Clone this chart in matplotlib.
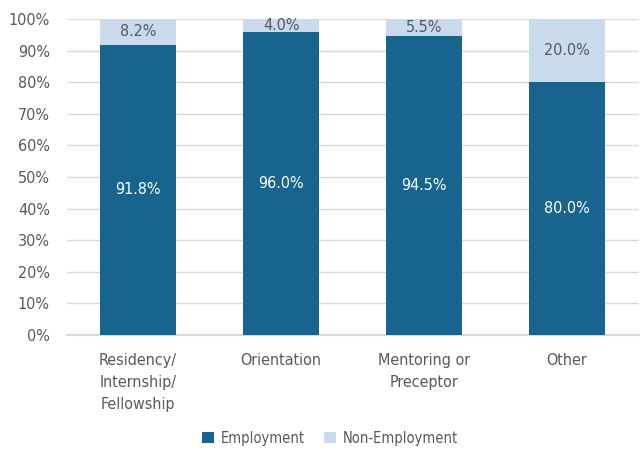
import matplotlib
matplotlib.use("Agg")
import matplotlib.pyplot as plt
import numpy as np

plt.rcParams['font.family'] = ['DejaVu Sans']
plt.rcParams['font.stretch'] = 'condensed'

categories = ["Residency/\nInternship/\nFellowship", "Orientation", "Mentoring or\nPreceptor", "Other"]
employment = [91.8, 96.0, 94.5, 80.0]
non_employment = [8.2, 4.0, 5.5, 20.0]

dark = "#17648f"
light = "#c8daeb"
grey = "#595959"

fig = plt.figure(figsize=(6.41, 4.5), dpi=100)
ax = fig.add_axes([66.5 / 641, 115 / 450, 572 / 641, 316 / 450])

x = np.arange(len(categories))
w = 0.53
b1 = ax.bar(x, employment, w, color=dark, label="Employment", zorder=3)
b2 = ax.bar(x, non_employment, w, bottom=employment, color=light, label="Non-Employment", zorder=3)

for i in range(len(categories)):
    ax.text(x[i], employment[i] / 2, f"{employment[i]:.1f}%", ha="center", va="center",
            color="white", fontsize=11.5, zorder=4)
    ax.text(x[i], employment[i] + non_employment[i] / 2, f"{non_employment[i]:.1f}%",
            ha="center", va="center", color=grey, fontsize=11.5, zorder=4)

ax.set_xlim(-0.5, len(categories) - 0.5)
ax.set_ylim(0, 100)
ax.set_yticks(range(0, 101, 10))
ax.set_yticklabels([f"{v}%" for v in range(0, 101, 10)])
ax.set_xticks(x)
ax.set_xticklabels(categories, linespacing=1.6)
ax.tick_params(axis="both", length=0, colors=grey, labelsize=11.5)
ax.tick_params(axis="x", pad=13)
ax.tick_params(axis="y", pad=12)
ax.yaxis.grid(True, color="#d9d9d9", linewidth=1, zorder=0)
for s in ["top", "right", "left"]:
    ax.spines[s].set_visible(False)
ax.spines["bottom"].set_color("#d9d9d9")
ax.spines["bottom"].set_linewidth(1.5)

leg = fig.legend(handles=[b1, b2], loc="center", bbox_to_anchor=(330 / 641, 1 - 438 / 450),
                 ncol=2, frameon=False, fontsize=10.5, handlelength=0.8, handleheight=0.8,
                 columnspacing=1.3, handletextpad=0.5)
for t in leg.get_texts():
    t.set_color(grey)

fig.savefig("out.png", dpi=100)
